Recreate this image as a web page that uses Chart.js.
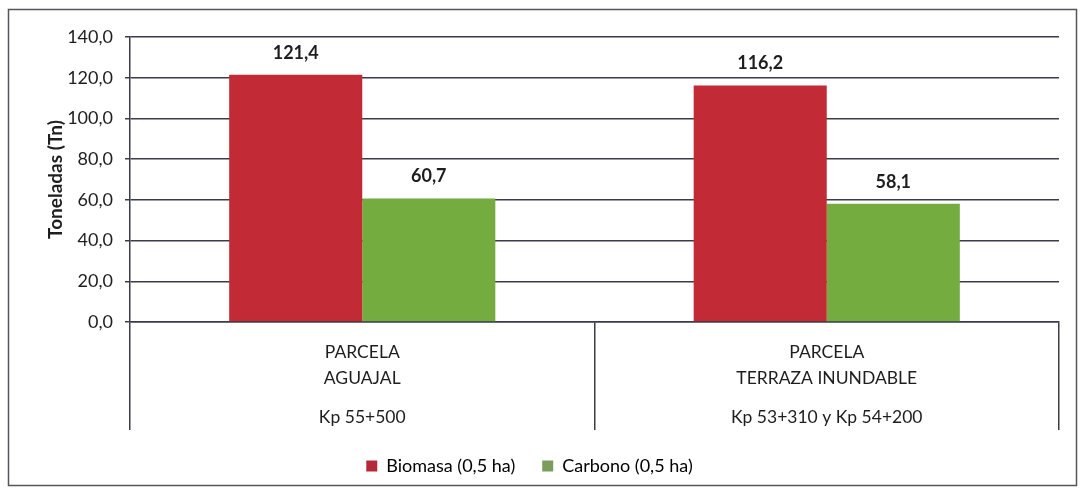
<!DOCTYPE html>
<html>
<head>
<meta charset="utf-8">
<script src="https://cdn.jsdelivr.net/npm/chart.js@4"></script>
<style>
  html, body { margin: 0; padding: 0; background: #fff; }
</style>
</head>
<body>
<canvas id="myBarChart" width="1081" height="495"></canvas>
<script>
const categories = [
    ['PARCELA', '', 'AGUAJAL', '', '', 'Kp 55+500'],
    ['PARCELA', '', 'TERRAZA INUNDABLE', '', '', 'Kp 53+310 y Kp 54+200']
];
const biomasa = [121.4, 116.2];
const carbono = [60.7, 58.1];
const yTicks = [0, 20, 40, 60, 80, 100, 120, 140];

const lineColor = '#3b3b4a';
const fmt = v => v.toFixed(1).replace('.', ',');

// value labels above each bar, plus the outer frame
const extras = {
    id: 'extras',
    beforeDraw(chart) {
        const c = chart.ctx;
        c.save();
        c.fillStyle = '#fff';
        c.fillRect(0, 0, chart.width, chart.height);
        c.strokeStyle = '#55555f';
        c.lineWidth = 1.5;
        c.strokeRect(8.5, 9.5, 1068, 476);
        c.restore();
    },
    afterDatasetsDraw(chart) {
        const c = chart.ctx;
        c.save();
        c.font = 'bold 18px Lato';
        c.fillStyle = '#1e1e1e';
        c.textAlign = 'center';
        c.textBaseline = 'middle';
        chart.data.datasets.forEach((ds, i) => {
            chart.getDatasetMeta(i).data.forEach((bar, j) => {
                c.fillText(fmt(ds.data[j]), bar.x, bar.y - 22);
            });
        });
        c.restore();
    }
};

const ctx = document.getElementById('myBarChart').getContext('2d');

const myBarChart = new Chart(ctx, {
    type: 'bar',
    data: {
        labels: categories,
        datasets: [
            {
                label: 'Biomasa (0,5 ha)',
                data: biomasa,
                backgroundColor: '#c22b35',
                categoryPercentage: 0.573,
                barPercentage: 1
            },
            {
                label: 'Carbono (0,5 ha)',
                data: carbono,
                backgroundColor: '#74ac40',
                categoryPercentage: 0.573,
                barPercentage: 1
            }
        ]
    },
    options: {
        responsive: false,
        animation: false,
        devicePixelRatio: 1,
        layout: {
            padding: { top: 37, right: 22, bottom: 10, left: 0 }
        },
        plugins: {
            legend: {
                display: true,
                position: 'bottom',
                labels: {
                    boxWidth: 11,
                    boxHeight: 11,
                    padding: 27,
                    color: '#222',
                    font: { family: 'Lato', size: 18 },
                    generateLabels(chart) {
                        const legendColors = ['#b52838', '#7a9c5c'];
                        return chart.data.datasets.map((ds, i) => ({
                            text: ds.label,
                            fillStyle: legendColors[i],
                            strokeStyle: legendColors[i],
                            lineWidth: 0,
                            datasetIndex: i
                        }));
                    }
                }
            },
            tooltip: { enabled: false }
        },
        scales: {
            x: {
                afterFit(scale) { scale.height = 108; },
                grid: {
                    offset: true,
                    drawOnChartArea: false,
                    tickLength: 108,
                    color: lineColor,
                    lineWidth: 1.5
                },
                border: { color: lineColor, width: 1.5 },
                ticks: {
                    padding: -84,
                    maxRotation: 0,
                    color: '#1e1e1e',
                    font: { family: 'Lato', size: 17.5, lineHeight: '13px' }
                }
            },
            y: {
                min: 0,
                max: 140,
                afterFit(scale) { scale.width = 130; },
                afterBuildTicks(scale) { scale.ticks = yTicks.map(v => ({ value: v })); },
                grid: {
                    color: lineColor,
                    lineWidth: 1.5,
                    tickLength: 5
                },
                border: { color: lineColor, width: 1.5 },
                ticks: {
                    padding: 12,
                    color: '#1e1e1e',
                    font: { family: 'Lato', size: 18 },
                    callback: v => fmt(v)
                },
                title: {
                    display: true,
                    text: 'Toneladas (Tn)',
                    color: '#1e1e1e',
                    font: { family: 'Lato', size: 19, weight: 'bold' },
                    padding: { top: 44, bottom: 0 }
                }
            }
        }
    },
    plugins: [extras]
});
</script>
</body>
</html>
